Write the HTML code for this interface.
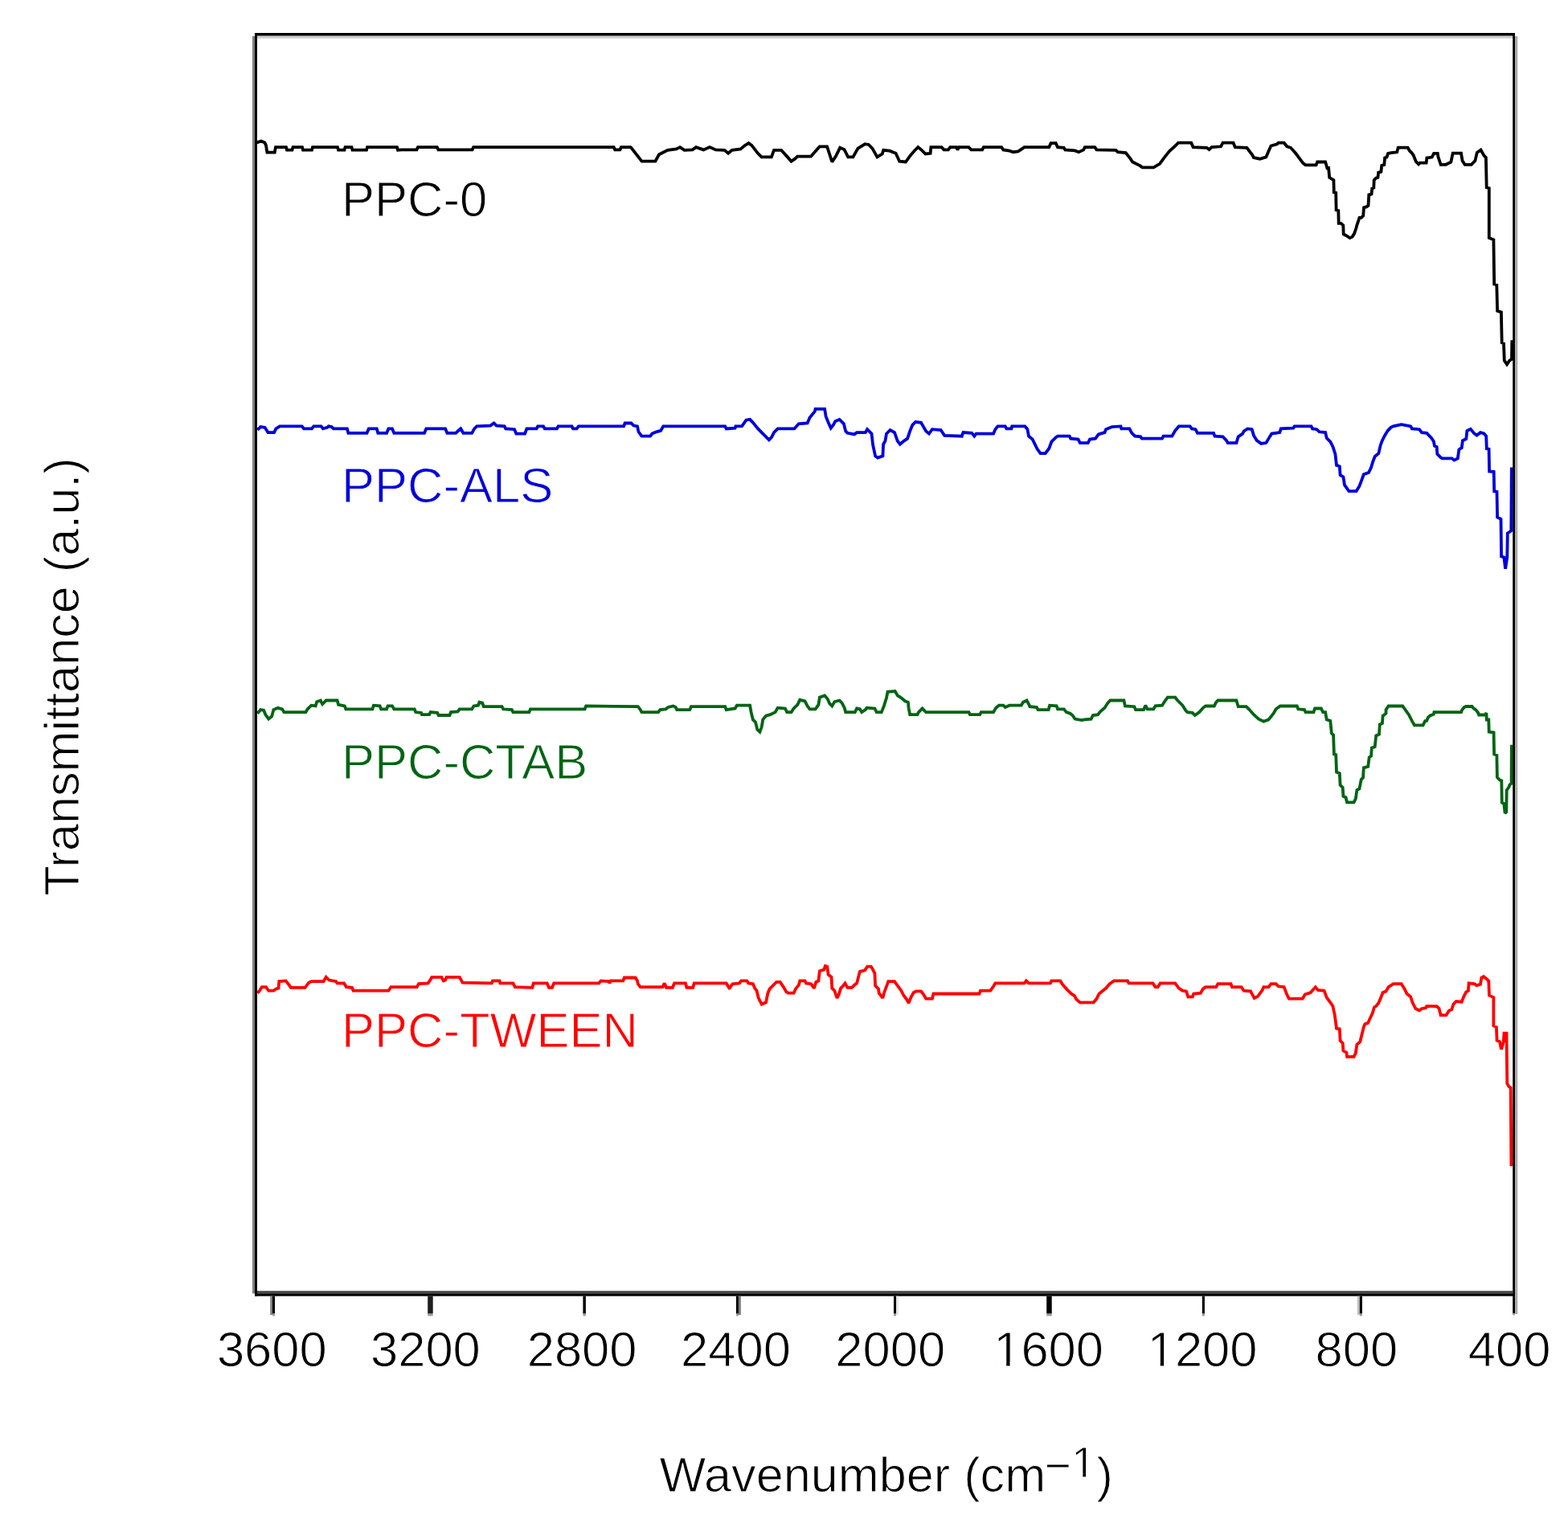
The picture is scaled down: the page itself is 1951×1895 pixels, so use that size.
<!DOCTYPE html>
<html><head><meta charset="utf-8"><title>FTIR spectra</title>
<style>
html,body{margin:0;padding:0;background:#fff;}
body{width:1951px;height:1895px;overflow:hidden;}
svg{display:block;}
.t text{font-family:"Liberation Sans",Arial,sans-serif;font-size:61.5px;fill:#000;stroke:#fff;stroke-width:1.0px;}
</style></head><body>
<svg width="1951" height="1895" viewBox="0 0 1951 1895">
<rect width="1951" height="1895" fill="#fff"/>
<polyline fill="none" stroke="#000" stroke-width="3.8" stroke-linejoin="miter" stroke-miterlimit="2" points="319.6,177.4 325.0,175.5 329.4,177.4 331.0,181.0 332.4,189.7 341.7,189.7 343.0,183.1 356.0,183.1 357.0,186.7 363.5,186.7 364.5,183.1 376.0,183.1 377.0,186.7 388.0,186.7 389.0,183.1 420.0,183.1 421.0,186.7 428.5,186.7 429.5,183.1 437.5,183.1 438.5,186.7 456.0,186.7 457.0,183.1 494.0,183.1 495.0,186.7 500.0,186.4 518.5,186.4 520.0,183.1 543.8,183.1 545.4,186.4 587.6,186.4 589.2,183.1 763.7,183.1 765.2,186.4 771.4,186.4 772.9,183.1 784.5,183.1 785.4,183.8 798.5,200.7 815.4,200.7 820.0,192.3 830.7,186.9 841.5,185.4 846.1,183.1 851.5,186.9 861.5,186.4 866.1,183.1 875.3,186.4 883.0,183.1 890.7,186.4 901.5,186.9 906.1,190.8 910.7,186.9 921.5,185.4 926.1,181.5 931.5,178.1 935.3,180.8 943.0,190.8 947.6,195.4 959.9,195.4 963.0,186.9 972.2,186.9 979.9,195.4 984.5,200.7 989.1,197.7 992.2,194.6 1009.1,194.6 1019.9,182.3 1029.1,182.3 1035.3,201.5 1039.9,194.6 1045.2,183.8 1050.6,186.1 1055.2,195.4 1061.4,195.4 1067.5,184.6 1075.2,180.0 1076.2,179.2 1080.8,180.0 1085.4,184.6 1091.5,195.4 1097.7,191.5 1099.2,186.9 1106.9,187.7 1114.6,190.8 1119.2,200.7 1126.9,201.5 1133.0,193.1 1137.7,187.7 1142.3,183.1 1146.9,186.9 1151.5,191.5 1157.6,190.8 1158.4,183.1 1171.5,183.1 1174.6,186.4 1179.9,186.4 1182.3,183.1 1189.9,183.1 1191.5,186.4 1193.0,183.1 1205.3,183.1 1208.4,186.4 1222.2,186.4 1223.8,183.1 1246.1,183.1 1248.4,186.4 1256.1,187.7 1260.7,189.2 1266.8,188.4 1269.9,186.4 1274.5,183.1 1305.3,183.1 1307.6,178.1 1313.7,178.1 1316.0,183.1 1323.7,183.8 1325.3,186.4 1337.6,187.4 1342.2,189.2 1348.3,186.4 1349.9,183.1 1362.2,183.1 1364.5,186.4 1388.4,186.9 1390.8,189.2 1400.7,190.0 1406.1,196.9 1409.2,201.5 1418.4,206.1 1421.5,208.4 1435.3,208.4 1443.0,203.8 1449.2,195.4 1455.3,187.7 1461.5,182.3 1466.1,177.7 1482.2,177.7 1484.6,183.1 1501.5,183.8 1504.5,186.1 1507.6,183.1 1519.1,182.3 1521.5,177.7 1534.5,177.7 1536.8,183.1 1551.4,183.8 1558.4,193.1 1559.9,196.1 1567.6,197.7 1575.3,195.4 1578.3,188.4 1581.4,181.5 1589.1,179.2 1590.7,177.7 1597.6,177.7 1601.4,182.3 1606.0,183.8 1612.2,190.8 1621.4,203.1 1624.5,205.4 1637.5,205.4 1639.1,201.5 1649.1,201.5 1651.4,209.2 1653.1,209.1 1654.2,220.9 1656.6,222.5 1659.4,224.1 1659.8,239.2 1662.2,239.9 1662.6,261.3 1665.3,262.1 1665.7,277.9 1668.5,277.9 1671.3,280.3 1671.7,291.4 1674.8,293.0 1679.6,296.1 1682.7,294.6 1685.1,290.6 1687.5,283.5 1688.3,280.3 1691.5,270.8 1693.8,270.8 1696.2,268.4 1697.0,258.2 1700.2,257.4 1702.5,255.8 1703.3,242.3 1706.5,241.5 1707.3,234.4 1709.3,233.6 1709.7,224.1 1712.0,221.7 1714.4,220.9 1715.2,214.6 1718.4,213.8 1719.2,205.9 1722.3,205.1 1723.1,196.4 1725.5,195.6 1727.1,190.9 1731.0,190.1 1738.2,189.3 1739.7,183.7 1751.6,183.7 1754.0,187.7 1756.4,190.1 1758.7,193.2 1761.9,201.2 1765.1,204.3 1766.6,202.7 1774.6,202.7 1775.4,196.4 1781.7,195.6 1784.1,190.9 1788.8,190.9 1789.5,195.3 1792.7,204.8 1799.0,204.8 1805.3,201.7 1807.7,190.6 1818.0,190.6 1819.6,200.1 1822.7,204.8 1830.7,204.8 1835.4,200.1 1837.8,189.8 1842.5,186.6 1846.5,193.7 1848.9,196.1 1849.7,233.3 1852.8,234.1 1852.8,295.9 1858.4,298.2 1859.2,353.6 1862.3,354.4 1863.1,386.9 1867.9,388.5 1868.7,426.5 1871.0,427.3 1871.8,448.6 1875.0,453.4 1878.2,448.6 1881.0,447.0 1881.3,423.3"/>
<polyline fill="none" stroke="#0000dc" stroke-width="3.8" stroke-linejoin="miter" stroke-miterlimit="2" points="320.4,535.0 324.2,531.1 329.6,531.9 333.5,538.1 341.1,538.1 343.4,533.4 348.1,530.4 375.7,530.4 378.0,533.4 388.0,533.4 390.3,530.4 399.6,530.4 401.9,533.4 407.3,531.9 408.8,530.4 412.6,531.1 414.9,533.4 431.9,533.4 433.4,538.8 456.5,538.8 458.8,533.4 468.8,533.4 470.3,538.8 481.1,538.8 483.4,533.4 488.0,533.4 490.3,538.8 528.0,538.8 530.3,533.4 554.1,533.4 556.4,538.8 567.2,538.8 570.3,535.8 573.3,533.4 576.4,538.8 587.2,538.8 590.2,533.4 593.3,530.4 610.2,529.6 614.6,526.5 617.7,529.6 627.7,530.4 629.2,533.4 640.0,534.2 642.3,539.6 653.1,539.6 655.4,533.4 667.7,533.4 669.2,530.4 676.1,530.4 677.7,533.4 693.0,533.4 694.6,530.4 711.5,530.4 713.0,533.4 717.6,533.4 719.9,530.4 776.1,530.4 777.6,526.5 785.3,526.5 788.4,529.6 793.0,530.4 794.5,537.3 798.4,542.7 809.1,542.7 811.4,539.6 816.8,537.3 822.2,535.8 825.3,530.4 902.2,530.4 903.7,533.4 914.6,532.7 915.4,530.4 923.1,530.4 928.4,522.7 933.1,521.9 936.9,525.8 943.1,533.4 949.2,539.6 956.9,547.3 960.0,544.2 963.0,538.1 967.7,533.4 988.4,533.4 993.8,527.3 1004.6,526.5 1007.6,519.6 1013.8,511.9 1014.6,508.8 1026.1,508.8 1027.6,518.1 1030.7,525.8 1033.8,532.7 1036.9,528.8 1039.2,524.2 1044.5,521.9 1049.9,527.3 1052.2,536.5 1054.5,538.8 1063.0,540.4 1066.1,538.1 1076.8,538.1 1079.1,534.2 1084.5,539.6 1086.1,553.4 1089.1,567.3 1092.2,569.6 1098.4,567.3 1099.1,552.7 1101.4,548.8 1103.0,539.6 1107.6,535.0 1113.0,538.1 1116.8,548.8 1119.9,552.7 1124.5,548.8 1129.1,545.7 1132.2,536.5 1135.3,528.8 1139.1,525.0 1146.0,525.8 1152.2,536.5 1156.0,539.6 1159.9,534.2 1170.6,535.0 1175.2,541.9 1196.8,542.7 1196.9,541.9 1198.5,538.1 1209.2,538.8 1212.3,542.7 1214.6,539.6 1236.1,539.6 1238.4,534.2 1241.5,530.4 1250.7,530.4 1252.3,533.4 1258.4,533.4 1259.2,530.4 1275.3,530.4 1278.4,534.2 1280.0,542.7 1284.6,546.5 1288.4,554.2 1290.7,558.8 1294.6,564.2 1300.7,564.2 1305.3,558.0 1308.4,549.6 1313.8,544.2 1316.1,542.7 1330.7,542.7 1332.2,545.7 1341.5,546.5 1343.8,551.1 1353.8,551.1 1356.1,546.5 1363.0,545.7 1366.8,540.4 1374.5,538.1 1376.1,534.2 1383.7,531.1 1394.5,530.4 1395.3,533.4 1405.3,533.4 1408.3,538.8 1412.2,542.7 1419.1,543.4 1420.7,545.7 1446.0,545.7 1447.6,542.7 1458.3,542.7 1462.2,535.8 1466.8,530.4 1480.6,530.4 1482.9,533.4 1487.5,534.2 1490.0,538.8 1510.0,538.8 1511.5,542.7 1521.5,543.4 1526.1,548.1 1527.7,551.1 1538.4,551.1 1540.7,543.4 1546.1,539.6 1547.7,536.5 1552.3,533.4 1557.7,534.2 1560.0,541.9 1563.8,548.1 1569.2,551.9 1575.3,551.1 1579.9,543.4 1582.3,539.6 1592.3,538.1 1593.8,533.4 1609.2,532.7 1610.7,530.4 1631.5,530.4 1633.0,533.4 1638.4,534.2 1641.5,537.3 1649.1,538.1 1650.7,545.0 1655.3,549.6 1658.4,555.7 1661.4,565.0 1663.0,578.8 1666.8,580.3 1667.6,591.1 1671.4,593.4 1673.0,603.4 1678.4,611.1 1687.6,611.1 1691.4,604.9 1693.7,598.8 1696.8,590.3 1703.0,588.0 1706.0,581.9 1708.3,574.2 1710.7,568.0 1715.3,564.2 1717.6,554.2 1719.9,548.1 1723.0,541.9 1726.8,535.8 1730.6,531.9 1733.7,530.4 1743.7,528.1 1755.2,530.4 1756.8,533.4 1766.0,534.2 1769.1,538.1 1775.2,538.8 1777.8,541.6 1781.1,544.9 1783.9,549.3 1785.0,554.9 1787.7,556.0 1788.3,564.8 1792.7,569.3 1794.4,570.4 1806.6,570.4 1809.3,572.6 1813.8,570.4 1815.4,559.3 1818.8,557.1 1819.9,548.2 1824.3,546.0 1825.4,536.0 1829.8,533.8 1834.3,539.4 1837.6,541.6 1842.0,538.2 1846.5,539.4 1849.2,542.7 1849.8,558.2 1852.6,558.8 1853.1,586.5 1858.7,587.0 1859.2,611.4 1862.5,611.9 1863.1,643.5 1867.5,645.8 1868.1,692.3 1871.4,693.4 1873.1,707.8 1875.3,693.4 1875.8,663.5 1879.2,661.3 1880.3,660.2 1880.8,581.5"/>
<polyline fill="none" stroke="#006414" stroke-width="3.8" stroke-linejoin="miter" stroke-miterlimit="2" points="320.4,887.7 324.2,883.1 328.1,883.8 330.4,889.2 334.2,894.6 338.1,891.5 340.4,883.1 345.8,880.8 351.1,882.3 353.4,886.1 380.4,886.1 382.7,882.3 387.3,877.7 392.7,878.4 394.2,873.1 398.8,871.5 401.1,876.1 404.2,873.1 405.7,871.5 419.6,871.5 421.1,876.9 428.8,878.4 430.3,882.3 463.4,882.3 464.9,877.7 472.6,878.4 474.1,882.3 481.1,882.3 482.6,878.4 488.0,878.4 490.3,882.3 515.7,882.3 517.2,886.1 524.1,886.9 524.9,889.2 534.1,889.2 535.7,886.1 544.1,886.9 545.7,890.0 559.5,890.0 561.0,886.1 569.5,885.4 571.8,882.3 587.2,882.3 589.5,878.4 594.9,877.7 596.4,873.8 600.2,874.6 601.8,879.2 624.6,879.2 626.1,882.3 636.9,883.1 638.4,886.1 658.4,886.1 660.0,882.3 727.6,882.3 729.2,878.4 793.8,879.2 796.8,883.1 798.4,886.1 819.1,886.1 821.4,883.1 828.3,882.3 831.4,880.0 837.6,878.4 840.7,880.0 842.2,883.1 858.3,883.1 859.9,879.2 902.2,879.2 903.7,883.1 914.6,881.5 916.9,877.7 933.1,877.7 934.6,886.1 936.9,895.4 940.0,898.4 942.3,907.7 945.4,910.7 947.7,904.6 949.2,895.4 953.0,890.7 958.4,889.2 964.6,886.1 967.7,880.7 976.9,881.5 979.2,886.1 984.6,886.1 987.6,881.5 992.3,876.9 995.3,870.8 1001.5,872.3 1004.6,878.4 1007.6,882.3 1014.6,882.3 1018.4,876.9 1019.9,867.7 1026.1,865.4 1029.9,870.0 1032.2,875.4 1035.3,878.4 1038.4,873.1 1044.5,871.5 1047.6,874.6 1050.7,880.7 1052.2,886.1 1063.8,886.1 1066.1,881.5 1069.9,882.3 1072.2,886.1 1076.8,883.1 1078.4,880.7 1088.4,881.5 1090.7,886.1 1096.8,886.1 1099.9,878.4 1103.0,868.4 1104.5,860.8 1113.7,860.0 1116.8,865.4 1121.4,868.4 1126.0,872.3 1129.9,873.8 1130.7,881.5 1132.2,889.2 1141.4,889.2 1143.0,886.1 1147.6,881.5 1150.6,884.6 1152.2,886.1 1190.0,886.1 1205.4,886.1 1206.9,889.2 1219.2,889.2 1220.8,886.1 1236.1,886.1 1239.2,880.8 1243.0,877.7 1248.4,877.7 1250.7,880.0 1256.1,877.7 1270.7,877.7 1273.0,873.8 1277.6,871.5 1280.0,876.1 1281.5,879.2 1289.9,880.0 1291.5,883.1 1304.6,883.1 1306.1,877.7 1314.6,878.4 1316.1,882.3 1323.8,882.3 1326.9,886.1 1331.5,887.7 1334.5,890.0 1337.6,894.6 1346.1,896.1 1349.1,895.4 1357.6,894.6 1359.9,890.0 1366.1,889.2 1369.1,885.4 1374.5,880.8 1378.4,874.6 1381.4,871.5 1398.4,871.5 1399.9,878.4 1411.4,879.2 1413.0,883.1 1423.0,883.1 1425.3,877.7 1427.6,882.3 1435.3,882.3 1437.6,878.4 1446.0,877.7 1449.9,871.5 1452.9,867.7 1462.2,867.7 1465.2,871.5 1471.4,877.7 1475.2,883.8 1477.5,886.1 1483.7,886.9 1486.8,890.0 1492.3,886.1 1496.9,880.8 1500.0,878.5 1510.8,878.5 1513.1,873.8 1515.4,871.5 1538.4,871.5 1540.7,879.2 1550.7,879.2 1554.6,883.1 1560.0,889.2 1566.1,894.6 1572.3,897.7 1578.4,895.4 1584.6,887.7 1587.6,882.3 1593.0,878.5 1613.8,878.5 1615.3,882.3 1623.0,883.1 1624.5,886.1 1634.5,886.1 1636.1,881.5 1643.8,881.5 1646.1,886.1 1649.1,886.1 1650.7,895.4 1655.3,896.9 1656.8,912.3 1659.1,914.6 1659.9,938.4 1662.2,939.2 1663.0,960.7 1666.8,962.3 1667.6,976.9 1670.7,979.9 1671.4,990.7 1674.5,992.2 1676.1,998.4 1684.5,998.4 1686.8,993.8 1688.4,983.0 1691.4,981.5 1693.7,969.9 1696.0,967.6 1696.8,955.3 1702.2,953.8 1703.7,942.3 1706.0,940.7 1706.8,930.7 1710.7,929.2 1712.2,915.4 1716.0,913.8 1716.8,901.5 1719.9,900.0 1720.6,890.8 1724.5,887.7 1724.5,883.1 1727.6,878.5 1745.2,878.5 1749.1,883.8 1752.9,889.2 1756.8,896.9 1759.9,902.3 1770.6,902.3 1773.7,896.1 1774.6,898.0 1776.8,892.9 1779.3,890.4 1783.9,888.7 1784.4,886.2 1818.1,886.2 1819.0,883.6 1821.5,880.3 1824.0,879.0 1831.6,879.0 1833.3,881.1 1836.7,883.6 1839.2,887.0 1840.1,889.5 1847.7,889.5 1849.4,887.0 1849.8,895.5 1852.3,895.5 1852.7,910.6 1858.6,911.5 1859.1,938.5 1862.4,939.8 1862.9,967.2 1866.2,970.6 1868.3,971.4 1868.8,998.4 1871.3,1000.1 1872.6,1011.9 1874.3,1010.3 1874.7,983.2 1877.2,979.9 1878.5,976.5 1880.6,974.8 1880.8,926.7"/>
<polyline fill="none" stroke="#ff0000" stroke-width="3.8" stroke-linejoin="miter" stroke-miterlimit="2" points="320.4,1235.7 323.5,1231.9 325.8,1228.1 331.1,1228.1 334.2,1232.7 340.4,1232.7 343.4,1230.4 346.5,1229.6 347.3,1221.1 355.7,1220.4 360.4,1226.5 361.9,1228.8 379.6,1228.8 384.2,1222.7 387.3,1221.1 402.6,1221.1 405.7,1215.8 409.6,1219.6 418.0,1221.1 419.6,1223.4 428.0,1223.4 431.1,1228.1 438.0,1228.8 439.6,1232.7 483.4,1232.7 486.5,1228.1 518.7,1228.1 521.0,1224.2 532.6,1223.4 535.7,1218.8 537.2,1215.8 549.5,1215.8 551.8,1220.4 554.1,1219.6 555.6,1215.8 571.8,1215.8 575.6,1222.7 611.8,1223.4 613.1,1220.4 621.5,1220.4 622.3,1223.4 638.4,1223.4 640.8,1228.1 662.3,1228.8 663.8,1223.4 680.7,1223.4 683.0,1228.8 686.9,1228.8 689.2,1223.4 745.3,1223.4 747.6,1220.4 757.6,1221.1 758.4,1223.4 759.9,1220.4 775.3,1220.4 776.8,1216.5 790.7,1216.5 793.0,1220.4 793.8,1224.2 796.8,1228.1 824.5,1228.1 826.8,1223.4 829.1,1228.8 836.8,1228.8 839.1,1223.4 853.0,1223.4 854.5,1228.8 862.2,1228.8 863.7,1223.4 903.7,1223.4 907.5,1229.6 907.7,1229.6 911.5,1224.2 920.0,1223.4 922.3,1220.4 929.2,1220.4 931.5,1223.4 936.9,1224.2 939.2,1229.6 941.5,1232.7 943.8,1241.9 947.7,1249.6 953.0,1247.3 955.4,1235.7 957.7,1230.4 961.5,1226.5 966.1,1221.9 970.7,1221.9 975.3,1228.8 978.4,1234.2 980.7,1235.7 987.6,1235.7 990.0,1230.4 993.8,1225.7 995.3,1220.4 1001.5,1220.4 1003.0,1223.4 1009.2,1224.2 1013.0,1229.6 1015.3,1221.9 1018.4,1220.4 1019.9,1208.1 1025.3,1206.5 1026.9,1201.9 1029.2,1202.7 1030.7,1212.7 1034.5,1215.8 1035.3,1229.6 1038.4,1232.7 1041.5,1241.9 1043.8,1237.3 1046.1,1229.6 1049.2,1226.5 1051.5,1223.4 1054.5,1228.8 1059.9,1228.8 1063.0,1225.7 1066.1,1223.4 1069.9,1208.8 1076.1,1207.3 1079.1,1202.7 1083.8,1202.7 1085.3,1205.0 1088.4,1211.1 1089.1,1226.5 1093.0,1230.4 1093.7,1235.7 1098.4,1241.9 1099.9,1235.7 1103.0,1227.3 1105.3,1221.1 1113.0,1221.1 1116.8,1226.5 1121.4,1232.7 1124.5,1238.8 1127.6,1242.7 1130.7,1248.0 1133.7,1240.4 1136.8,1235.0 1139.9,1233.4 1146.0,1233.4 1149.1,1237.3 1152.2,1242.7 1159.9,1242.7 1161.4,1236.5 1190.0,1236.5 1218.4,1236.5 1220.0,1232.7 1232.3,1232.7 1236.1,1227.3 1238.4,1223.4 1274.6,1223.4 1276.9,1220.4 1280.0,1223.4 1306.9,1223.4 1308.4,1220.4 1319.2,1220.4 1322.2,1225.0 1327.6,1231.1 1333.0,1236.5 1336.8,1238.8 1339.2,1243.4 1343.8,1247.3 1360.7,1247.3 1364.5,1242.7 1367.6,1236.5 1372.2,1232.7 1376.1,1229.6 1380.7,1224.2 1386.1,1220.4 1403.0,1220.4 1404.5,1223.4 1434.5,1223.4 1437.6,1228.1 1440.6,1228.1 1443.7,1223.4 1462.2,1223.4 1466.8,1229.6 1471.4,1232.7 1476.0,1233.4 1478.3,1240.4 1483.7,1240.4 1485.2,1236.5 1493.8,1235.7 1496.9,1230.4 1500.0,1228.1 1513.1,1228.1 1515.4,1224.2 1531.5,1224.2 1533.0,1228.1 1544.6,1228.1 1547.7,1232.7 1556.1,1233.4 1560.7,1241.9 1565.3,1239.6 1570.7,1231.9 1572.3,1228.1 1578.4,1228.1 1581.5,1224.2 1587.6,1224.2 1590.7,1227.3 1597.6,1228.1 1601.5,1238.1 1603.8,1242.7 1620.7,1242.7 1623.8,1237.3 1630.7,1235.0 1636.8,1228.1 1639.9,1231.9 1647.6,1232.7 1650.7,1241.1 1655.3,1247.3 1658.4,1251.9 1660.7,1262.7 1663.0,1279.6 1666.8,1280.3 1667.6,1294.9 1670.7,1298.0 1671.4,1307.3 1675.3,1309.6 1676.1,1314.9 1684.5,1314.9 1686.8,1310.3 1688.4,1299.6 1692.2,1296.5 1694.5,1287.3 1696.8,1278.0 1698.3,1274.2 1702.2,1272.7 1705.3,1265.7 1707.6,1261.1 1709.9,1253.4 1712.2,1251.9 1715.3,1248.0 1718.3,1241.1 1720.6,1235.0 1724.5,1233.4 1727.6,1228.1 1733.7,1224.2 1743.7,1224.2 1747.6,1230.4 1750.6,1236.5 1755.2,1240.4 1757.5,1247.3 1761.4,1255.0 1766.0,1257.3 1769.1,1255.0 1773.7,1254.2 1775.2,1251.9 1787.8,1252.1 1790.6,1254.9 1792.6,1263.1 1799.5,1263.1 1802.9,1257.6 1806.3,1256.2 1808.4,1249.4 1811.8,1245.9 1818.7,1246.6 1821.4,1239.8 1824.2,1234.3 1826.9,1232.9 1827.6,1223.3 1834.5,1224.0 1837.2,1226.1 1842.0,1224.7 1843.4,1216.5 1846.1,1215.1 1849.5,1217.8 1852.3,1220.6 1853.0,1238.4 1858.4,1241.1 1858.4,1276.1 1861.9,1278.2 1862.6,1294.6 1866.0,1296.0 1868.0,1305.6 1870.8,1296.0 1871.5,1285.7 1874.5,1285.7 1875.3,1348.1 1877.6,1352.2 1879.7,1353.6 1880.4,1450.9"/>
<rect x="314" y="45" width="3" height="1564.5" fill="#808080"/>
<rect x="317" y="41" width="3" height="1571.7" fill="#000"/>
<rect x="317" y="41" width="1568" height="3.7" fill="#000"/>
<rect x="320" y="44.7" width="1562" height="3" fill="#ccc"/>
<rect x="1882.2" y="41" width="2.8" height="1593.4" fill="#000"/>
<rect x="1882.2" y="1634.4" width="2.8" height="2" fill="#999"/>
<rect x="1885" y="45" width="3.3" height="1590" fill="#aaa"/>
<rect x="320" y="1606.2" width="1562.2" height="3.1" fill="#474747"/>
<rect x="317" y="1609.3" width="1568" height="3.4" fill="#000"/>
<rect x="336.2" y="1612.7" width="2.8" height="23.4" fill="#808080"/>
<rect x="339" y="1612.7" width="3.0" height="21.9" fill="#000"/>
<rect x="339" y="1634.6" width="3.0" height="2.8" fill="#9a9a9a"/>
<rect x="532.2" y="1612.7" width="6.5" height="21.9" fill="#1e1e1e"/>
<rect x="532.2" y="1634.6" width="6.5" height="2.8" fill="#9a9a9a"/>
<rect x="725.4" y="1612.7" width="3.5" height="21.9" fill="#000"/>
<rect x="725.4" y="1634.6" width="3.5" height="2.8" fill="#9a9a9a"/>
<rect x="918.9" y="1612.7" width="2.9" height="23.4" fill="#7a7a7a"/>
<rect x="915.9" y="1612.7" width="3.0" height="21.9" fill="#000"/>
<rect x="915.9" y="1634.6" width="3.0" height="2.8" fill="#9a9a9a"/>
<rect x="1115" y="1612.7" width="3.0" height="23.4" fill="#e5e5e5"/>
<rect x="1112" y="1612.7" width="3.0" height="21.9" fill="#000"/>
<rect x="1112" y="1634.6" width="3.0" height="2.8" fill="#9a9a9a"/>
<rect x="1302.2" y="1612.7" width="6.5" height="21.9" fill="#000"/>
<rect x="1302.2" y="1634.6" width="6.5" height="2.8" fill="#9a9a9a"/>
<rect x="1495.8" y="1612.7" width="3.1" height="21.9" fill="#000"/>
<rect x="1495.8" y="1634.6" width="3.1" height="2.8" fill="#9a9a9a"/>
<rect x="1688.9" y="1612.7" width="2.9" height="23.4" fill="#bbb"/>
<rect x="1691.8" y="1612.7" width="3.1" height="21.9" fill="#000"/>
<rect x="1691.8" y="1634.6" width="3.1" height="2.8" fill="#9a9a9a"/>
<g class="t"><text x="269.9" y="1700">3600</text>
<text x="461.0" y="1700">3200</text>
<text x="655.7" y="1700">2800</text>
<text x="847.1" y="1700">2400</text>
<text x="1039.3" y="1700">2000</text>
<text x="1236.2" y="1700">1600</text>
<text x="1427.7" y="1700">1200</text>
<text x="1636.5" y="1700">800</text>
<text x="1826.8" y="1700">400</text>
<text x="820.6" y="1856" style="font-size:61.2px">Wavenumber (cm</text>
<text x="1299.5" y="1842.6" style="font-size:57px">−</text>
<text x="1333.2" y="1837.5" style="font-size:54px">1</text>
<text x="1364.6" y="1856" style="font-size:61.2px">)</text>
<text transform="translate(98,842) rotate(-90)" text-anchor="middle" style="font-size:61.2px">Transmittance (a.u.)</text>
<text x="425" y="269.2" style="fill:#000">PPC-0</text>
<text x="425" y="625.4" style="fill:#0000dc">PPC-ALS</text>
<text x="425" y="969.3" style="fill:#006414">PPC-CTAB</text>
<text x="425" y="1303.3" style="fill:#ff0000">PPC-TWEEN</text></g>
<rect x="1240.70" y="1695.11" width="11.46" height="5.79" fill="#fff"/>
<rect x="1256.59" y="1695.11" width="10.98" height="5.79" fill="#fff"/>
<rect x="1432.25" y="1695.11" width="11.46" height="5.79" fill="#fff"/>
<rect x="1448.14" y="1695.11" width="10.98" height="5.79" fill="#fff"/>
<rect x="1337.16" y="1833.17" width="10.12" height="5.23" fill="#fff"/>
<rect x="1351.05" y="1833.17" width="9.70" height="5.23" fill="#fff"/>
</svg>
</body></html>
